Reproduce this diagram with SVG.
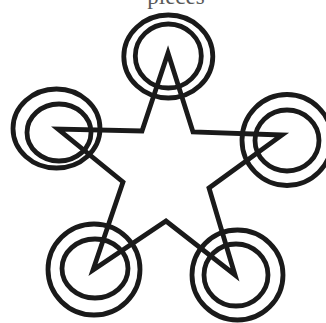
<svg xmlns="http://www.w3.org/2000/svg" width="326" height="323" viewBox="0 0 326 323">
<style>
.ring{fill:none;stroke:#1a1a1a;stroke-width:4.8}
.star{fill:none;stroke:#1a1a1a;stroke-width:4.8;stroke-linejoin:miter}
.lbl{font-family:"Liberation Serif",serif;font-size:23px;fill:#5a5a5a}
</style>
<rect width="326" height="323" fill="#ffffff"/>
<text class="lbl" x="176" y="4" text-anchor="middle">pieces</text>
<g id="star">
<polygon class="star" points="168,53 193,132 282,135 209,188 235,275 166,221 93,270 123,182 58,129 142,131"/>
</g>
<g id="node-top">
<ellipse class="ring" cx="168.3" cy="56.5" rx="44.5" ry="41.5"/>
<ellipse class="ring" cx="168.3" cy="56" rx="33" ry="32"/>
</g>
<g id="node-left">
<ellipse class="ring" cx="56.5" cy="128.5" rx="43.5" ry="39.5"/>
<ellipse class="ring" cx="59" cy="132.5" rx="32" ry="28.5"/>
</g>
<g id="node-right">
<ellipse class="ring" cx="287" cy="140" rx="45" ry="45.5"/>
<ellipse class="ring" cx="287" cy="140.5" rx="32" ry="30.5"/>
</g>
<g id="node-bottom-left">
<ellipse class="ring" cx="94" cy="269.5" rx="46" ry="45.5"/>
<ellipse class="ring" cx="95" cy="268.5" rx="33" ry="29.5"/>
</g>
<g id="node-bottom-right">
<ellipse class="ring" cx="237.5" cy="275" rx="45.5" ry="45"/>
<ellipse class="ring" cx="236" cy="275" rx="32" ry="31"/>
</g>
</svg>
